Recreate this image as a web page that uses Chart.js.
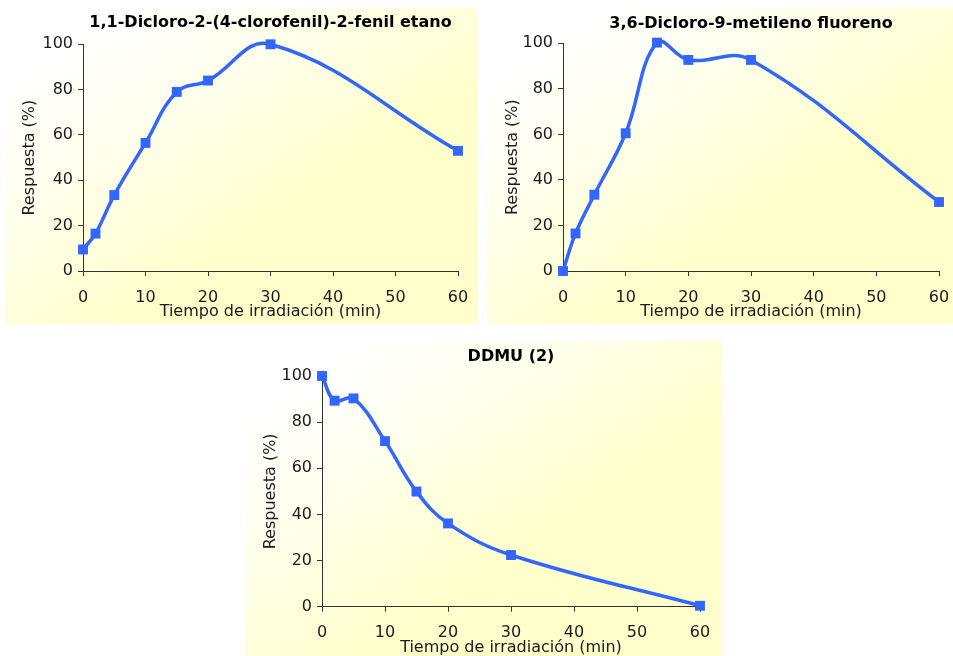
<!DOCTYPE html>
<html>
<head>
<meta charset="utf-8">
<script src="https://cdn.jsdelivr.net/npm/chart.js@4"></script>
<style>
  html, body { margin: 0; padding: 0; background: #fff; }
  body { width: 953px; height: 656px; position: relative; overflow: hidden; }
  .panel {
    position: absolute;
    background: linear-gradient(to bottom right, #ffffff 12%, #fffff0 30%, #ffffcc 62%);
  }
  .panel canvas { display: block; }
</style>
</head>
<body>
<div class="panel" style="left:6px;top:8px;width:472px;height:316px"><canvas id="g1" width="472" height="316"></canvas></div>
<div class="panel" style="left:487px;top:8px;width:466px;height:316px"><canvas id="g2" width="466" height="316"></canvas></div>
<div class="panel" style="left:246px;top:341px;width:476px;height:316px"><canvas id="g3" width="476" height="316"></canvas></div>
<script>
// tiempo de irradiación (min), común a las tres series
var TIEMPO = [0, 2, 5, 10, 15, 20, 30, 60];

// respuesta (%) de cada compuesto
var RESP_DDD = [9.5, 16.5, 33.5, 56.5, 79, 84, 100, 53];
var RESP_FLUORENO = [0, 16.5, 33.5, 60.5, 100.3, 92.7, 92.7, 30.3];
var RESP_DDMU = [100, 89.3, 90.3, 71.8, 49.9, 36.1, 22.4, 0.4];

var TICKS_X = [0, 10, 20, 30, 40, 50, 60];
var TICKS_Y = [0, 20, 40, 60, 80, 100];

var AZUL = '#3366FF';
var EJE = '#333333';
var FUENTE = "'DejaVu Sans', Verdana, sans-serif";

function _puntos(ys) {
  return TIEMPO.map(function (t, i) { return { x: t, y: ys[i] }; });
}

function _ticksDe(lista) {
  return function (s) { s.ticks = lista.map(function (v) { return { value: v }; }); };
}

function grafica(id, titulo, ys, g) {
  var ctx = document.getElementById(id);
  if (!ctx) return;
  var fuente = { family: FUENTE, size: 16 };
  new Chart(ctx, {
    type: 'line',
    data: {
      datasets: [{
        data: _puntos(ys),
        borderColor: AZUL,
        backgroundColor: AZUL,
        borderWidth: 3.5,
        tension: 0.4,
        pointStyle: 'rect',
        pointRadius: 7,
        pointBorderWidth: 0,
        clip: false,
      }],
    },
    options: {
      responsive: false,
      animation: false,
      layout: { padding: { left: 0, right: g.derecha, top: 0, bottom: 0 } },
      elements: { line: { capBezierPoints: false } },
      plugins: {
        legend: { display: false },
        tooltip: { enabled: false },
        title: {
          display: true,
          text: titulo,
          fullSize: false,
          color: '#000',
          font: { family: FUENTE, size: 16, weight: 'bold' },
          padding: { top: g.tituloArriba, bottom: g.tituloAbajo },
        },
      },
      scales: {
        x: {
          type: 'linear',
          min: 0,
          max: 60,
          afterBuildTicks: _ticksDe(TICKS_X),
          // el margen derecho lo fija layout.padding, no la etiqueta "60"
          afterFit: function (s) { s.height = g.altoX; s.paddingLeft = 0; s.paddingRight = 0; },
          grid: { drawOnChartArea: false, drawTicks: true, tickLength: 5, color: EJE },
          border: { color: EJE, width: 1 },
          ticks: { color: '#1a1a1a', font: fuente, padding: g.padX, maxRotation: 0, autoSkip: false },
          title: {
            display: true,
            text: 'Tiempo de irradiación (min)',
            color: '#1a1a1a',
            font: fuente,
            padding: { top: 0, bottom: g.padTituloX },
          },
        },
        y: {
          min: 0,
          max: 100,
          afterBuildTicks: _ticksDe(TICKS_Y),
          afterFit: function (s) { s.width = g.anchoY; },
          grid: { drawOnChartArea: false, drawTicks: true, tickLength: 5, color: EJE },
          border: { color: EJE, width: 1 },
          ticks: { color: '#1a1a1a', font: fuente, padding: 5 },
          title: {
            display: true,
            text: 'Respuesta (%)',
            color: '#1a1a1a',
            font: fuente,
            padding: { top: g.padTituloY, bottom: 0 },
          },
        },
      },
    },
  });
}

grafica('g1', '1,1-Dicloro-2-(4-clorofenil)-2-fenil etano', RESP_DDD,
  { derecha: 20, tituloArriba: 5.4, tituloAbajo: 11.7, altoX: 53, anchoY: 77, padX: 12, padTituloX: 3, padTituloY: 14.4 });
grafica('g2', '3,6-Dicloro-9-metileno fluoreno', RESP_FLUORENO,
  { derecha: 14, tituloArriba: 5.9, tituloAbajo: 10.2, altoX: 53, anchoY: 76, padX: 12, padTituloX: 3, padTituloY: 16.4 });
grafica('g3', 'DDMU (2)', RESP_DDMU,
  { derecha: 22, tituloArriba: 6.1, tituloAbajo: 9.7, altoX: 50.3, anchoY: 76, padX: 11.4, padTituloX: 0, padTituloY: 15 });
</script>
</body>
</html>
